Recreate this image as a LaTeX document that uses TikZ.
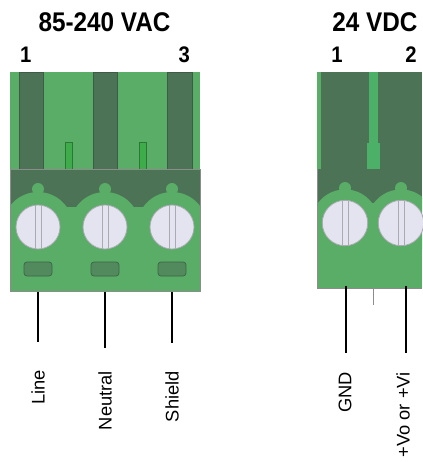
\documentclass[tikz,border=0pt]{standalone}
\usepackage{fontspec}
\setmainfont{Liberation Sans}
\newfontfamily\headfont{Liberation Sans}[FakeStretch=0.9]
\begin{document}
\begin{tikzpicture}[x=1pt,y=-1pt,
  lightg/.style={fill=bodygreen},
  darkg/.style={fill=darkgreen},
  screw/.style={fill=screwfill,draw=screwedge,line width=0.8pt},
  slit/.style={draw=screwedge,line width=0.8pt},
  lug/.style={fill=luggreen,draw=lugedge,line width=0.7pt,rounded corners=3pt},
  wire/.style={draw=black,line width=1.5pt},
  lbl/.style={rotate=90,anchor=east,inner sep=0pt,font=\fontsize{18.3}{21}\selectfont},
  head/.style={font=\headfont\bfseries\fontsize{27}{29}\selectfont,inner sep=0pt},
  pin/.style={font=\headfont\bfseries\fontsize{22.5}{24}\selectfont,inner sep=0pt},
  outline/.style={draw=edgegrey,line width=0.8pt}]
\definecolor{bodygreen}{RGB}{89,173,103}
\definecolor{darkgreen}{RGB}{77,115,86}
\definecolor{slotgreen}{RGB}{62,172,74}
\definecolor{stripgreen}{RGB}{76,176,104}
\definecolor{screwfill}{RGB}{228,228,240}
\definecolor{screwedge}{RGB}{170,170,178}
\definecolor{luggreen}{RGB}{82,138,94}
\definecolor{lugedge}{RGB}{60,100,70}
\definecolor{edgegrey}{RGB}{140,140,140}
\useasboundingbox (0,0) rectangle (422,462);

% ---------------- 3-pole terminal (85-240 VAC) ----------------
\node[head] (t1) at (104.5,22.5) {85-240 VAC};
\node[pin,anchor=west] (p1) at (20,55) {1};
\node[pin,anchor=east] (p3) at (190,55) {3};

% upper housing with wire entries
\fill[bodygreen] (10,72) rectangle (200,169);
\foreach \xa/\xb in {19/43,93/117,167/192}
  \draw[darkg,draw=darkgreen!80!black,line width=0.4pt] (\xa,72) rectangle (\xb,169);
\foreach \xa in {65,139}
  \draw[fill=slotgreen,draw=slotgreen!70!black,line width=0.4pt] (\xa,142) rectangle (\xa+7,169);

% lower housing
\fill[bodygreen] (10,169) rectangle (200,291);
\fill[darkgreen] (10,169) rectangle (200,207);
\begin{scope}
  \clip (10,169) rectangle (200,291);
  \foreach \cx in {38,105,172} {
    \fill[bodygreen] (\cx,227) circle (35pt);
    \fill[bodygreen] (\cx,189) circle (6pt);
  }
\end{scope}
\draw[outline] (10,169) rectangle (200,291);

% screws, slits and lugs
\foreach \cx in {38,105,172} {
  \draw[screw] (\cx,227) circle (22pt);
  \draw[slit] (\cx-3,205) -- (\cx-3,249);
  \draw[slit] (\cx+3,205) -- (\cx+3,249);
  \draw[lug] (\cx-14,262) rectangle (\cx+14,276);
}

% wires and labels
\coordinate (wa1) at (38,292);
\coordinate (wb1) at (105,292);
\coordinate (wc1) at (172,292);
\coordinate (wa2) at (38,342);
\coordinate (wb2) at (105,348);
\coordinate (wc2) at (172,343);
\draw[wire] (wa1) -- (wa2);
\draw[wire] (wb1) -- (wb2);
\draw[wire] (wc1) -- (wc2);
\node[lbl] (lline) at (38,370) {Line};
\node[lbl] (lneut) at (105,371) {Neutral};
\node[lbl] (lshld) at (172,371) {Shield};

% ---------------- 2-pole terminal (24 VDC) ----------------
\node[head] (t2) at (375,22.5) {24 VDC};
\node[pin] (q1) at (337,55) {1};
\node[pin] (q2) at (411,55) {2};

\fill[darkgreen] (317,72) rectangle (422,169);
\fill[bodygreen] (317,72) rectangle (321,169);
\fill[stripgreen] (369,72) rectangle (378,143);
\fill[stripgreen] (367,143) rectangle (380,169);

\fill[bodygreen] (317,169) rectangle (422,288);
\fill[darkgreen] (317,169) rectangle (422,203);
\begin{scope}
  \clip (317,169) rectangle (422,288);
  \foreach \cx in {345,401} {
    \fill[bodygreen] (\cx,223) circle (33.6pt);
    \fill[bodygreen] (\cx,188) circle (6pt);
  }
\end{scope}
\draw[outline] (422,288) -- (317,288) -- (317,169);

\foreach \cx in {345,401} {
  \draw[screw] (\cx,223) circle (22.7pt);
  \draw[slit] (\cx-3,200.5) -- (\cx-3,245.5);
  \draw[slit] (\cx+3,200.5) -- (\cx+3,245.5);
}

\coordinate (wd1) at (346,286);
\coordinate (we1) at (406,286);
\coordinate (wd2) at (346,353);
\coordinate (we2) at (406,353);
\coordinate (wm1) at (373,288);
\coordinate (wm2) at (373,305);
\draw[wire] (wd1) -- (wd2);
\draw[wire] (we1) -- (we2);
\draw[draw=edgegrey,line width=0.9pt] (wm1) -- (wm2);
\node[lbl] (lgnd) at (345,372) {GND};
\node[lbl] (lvo) at (403,372) {+Vo or +Vi};
\end{tikzpicture}
\end{document}
